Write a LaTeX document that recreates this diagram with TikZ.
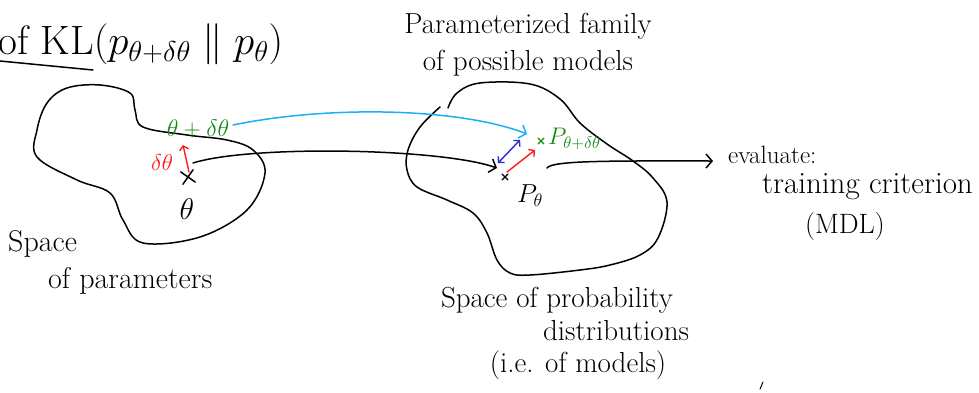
\RequirePackage{fix-cm}
\documentclass[tikz,border=0pt]{standalone}
\usepackage{amsmath}
\usetikzlibrary{positioning, arrows.meta, shapes.misc}
\definecolor{inkMain}{HTML}{000000}
\definecolor{inkGreen}{HTML}{168A16}
\definecolor{inkRed}{HTML}{FF1A1A}
\definecolor{inkBlue}{HTML}{2B2BD0}
\definecolor{inkCyan}{HTML}{1FAEF5}
\tikzset{
  pen/.style={line width=1.5pt, line cap=round, line join=round, color=inkMain},
  blob/.style={pen},
  bigarrow/.style={pen, -{Straight Barb[length=6pt, width=14pt]}},
  smallarrow/.style={line width=1.4pt, line cap=round, -{Straight Barb[length=4pt, width=9pt]}},
  dblarrow/.style={line width=1.4pt, line cap=round,
    {Straight Barb[length=4pt, width=9pt]}-{Straight Barb[length=4pt, width=9pt]}},
  handtext/.style={font=\fontsize{29}{37}\selectfont, text=inkMain, inner sep=0pt, align=center},
  titletext/.style={font=\fontsize{41}{44}\selectfont, text=inkMain, inner sep=0pt},
  pointlabel/.style={font=\fontsize{24}{26}\selectfont, inner sep=0pt},
  crossmark/.style={draw, cross out, line width=1.5pt, line cap=round,
    minimum size=11pt, inner sep=0pt},
  tinycross/.style={crossmark, line width=1.1pt, minimum size=5pt},
}

\begin{document}
\begin{tikzpicture}[x=1pt, y=-1pt]
  \useasboundingbox (0,0) rectangle (979,393);

  % === Title ===
  \node[titletext, anchor=base west] (title) at (-2,55)
    {of KL$(p_{\theta+\delta\theta}\;\|\;p_\theta)$};
  \coordinate (ulStart) at (0,61);
  \coordinate (ulEnd) at (93,70);
  \draw[pen] (ulStart) -- (ulEnd);

  % === Space of parameters (left blob) ===
  \draw[blob] plot[smooth cycle, tension=0.6] coordinates {
    (37,130) (47,103) (67,88) (100,85) (130,93) (135,110) (143,127)
    (187,135) (227,140) (253,150) (265,173) (247,210) (200,237)
    (143,243) (123,220) (110,193) (77,180) (37,157)};

  \node[crossmark, rotate=10] (xLeft) at (188,177) {};
  \node[pointlabel, font=\fontsize{30}{32}\selectfont] (thetaLbl) at (187,209) {$\theta$};
  \node[pointlabel, text=inkRed, font=\fontsize{23}{25}\selectfont] (dthetaLbl) at (162,163) {$\delta\theta$};
  \node[pointlabel, text=inkGreen] (tdtLbl) at (198,129) {$\theta+\delta\theta$};
  \coordinate (dtTail) at (189,172);
  \coordinate (dtTip) at (183,145);
  \draw[smallarrow, inkRed] (dtTail) -- (dtTip);

  \node[handtext, align=left, anchor=north west, font=\fontsize{30}{37}\selectfont]
    (parSpace) at (8,230) {Space\\\hspace*{40pt}of parameters};

  % === Space of probability distributions (right blob) ===
  \draw[blob] plot[smooth, tension=0.6] coordinates {
    (448,108) (457,93) (480,83) (530,84) (560,99) (580,123) (607,144)
    (633,161) (653,178) (667,202) (658,238) (640,255) (610,265)
    (580,270) (530,275) (510,273) (497,260) (487,233) (473,213)
    (447,200) (417,187) (407,170) (408,150) (420,127) (440,107)};

  \node[tinycross] (xRight) at (505,177) {};
  \node[tinycross, draw=inkGreen] (xGreen) at (541,141) {};
  \node[pointlabel, font=\fontsize{26}{28}\selectfont] (pLbl) at (530,196) {$P_\theta$};
  \node[pointlabel, text=inkGreen, anchor=west]
    (ptdLbl) at (548,139) {$P_{\theta+\delta\theta}$};

  \coordinate (blueA) at (498,163);
  \coordinate (blueB) at (520,140);
  \draw[dblarrow, inkBlue] (blueA) -- (blueB);
  \coordinate (redA) at (507,172);
  \coordinate (redB) at (535,150);
  \draw[smallarrow, inkRed] (redA) -- (redB);

  \node[handtext] (famLbl) at (528,45) {Parameterized family\\of possible models};
  \node[handtext] (probLbl) at (557,300) {Space of probability};
  \node[handtext] (distLbl) at (616,331) {distributions};
  \node[handtext] (modLbl) at (578,365) {(i.e. of models)};

  % === Mapping arrows ===
  \coordinate (mapStart) at (193,163);
  \coordinate (mapEnd) at (497,168);
  \draw[bigarrow] (mapStart) .. controls (250,145) and (440,148) .. (mapEnd);

  \coordinate (cyanStart) at (233,125);
  \coordinate (cyanEnd) at (527,134);
  \draw[bigarrow, inkCyan] (cyanStart) .. controls (330,105) and (460,108) .. (cyanEnd);

  % === Evaluate ===
  \node[handtext, anchor=west, font=\fontsize{25}{27}\selectfont] (evalLbl) at (728,155) {evaluate:};
  \node[handtext, anchor=west, font=\fontsize{31}{33}\selectfont] (critLbl) at (762,187) {training criterion};
  \node[handtext, anchor=west, font=\fontsize{28}{30}\selectfont] (mdlLbl) at (805,227) {(MDL)};
  \coordinate (evalStart) at (547,168);
  \coordinate (evalEnd) at (713,161);
  \draw[bigarrow] (evalStart) .. controls (552,160) and (620,161) .. (evalEnd);

  % stray pen mark
  \coordinate (strayA) at (760,389);
  \coordinate (strayB) at (763,382);
  \draw[pen, line width=1pt] (strayA) -- (strayB);

\end{tikzpicture}
\end{document}
